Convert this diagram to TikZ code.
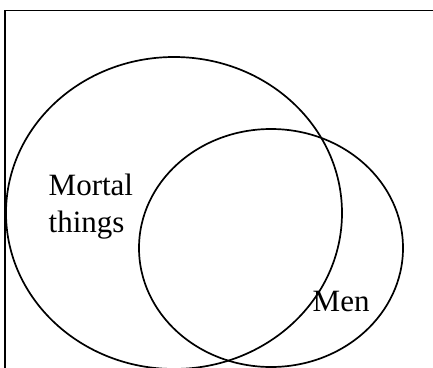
\documentclass[tikz,border=0pt]{standalone}
\usepackage{fontspec}
\setmainfont{Liberation Serif}
\usetikzlibrary{shapes.geometric}
\tikzset{
  setline/.style={line width=1.7pt, black},
  setoval/.style={setline, draw, ellipse, inner sep=0pt},
  setlabel/.style={font=\fontsize{31}{37}\selectfont, inner sep=0pt, align=left}
}

\begin{document}
\begin{tikzpicture}[x=1pt, y=1pt]
        \useasboundingbox (0,0) rectangle (433,367);
        \clip (0,0) rectangle (433,367);

        % Rahmen
        \draw[setline] (5,-20) -- (5,356.5) -- (460,356.5);

        % Mengen
        \node[setoval, minimum width=336pt, minimum height=312pt] (mortal) at (174,154) {};
        \node[setoval, minimum width=264pt, minimum height=238pt] (men) at (271,119) {};

        % Beschriftungen
        \node[setlabel, anchor=base west] (mortallabel) at (48.5,135) {Mortal\\things};
        \node[setlabel, anchor=base west] (menlabel) at (312.5,56) {Men};
      \end{tikzpicture}
\end{document}
